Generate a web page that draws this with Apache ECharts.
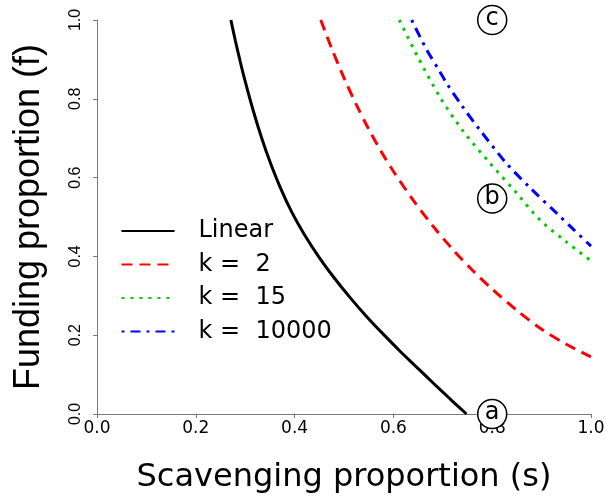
<!DOCTYPE html>
<html><head><meta charset="utf-8">
<script src="https://cdn.jsdelivr.net/npm/echarts@6/dist/echarts.min.js"></script>
<style>html,body{margin:0;padding:0;background:#fff}#c{width:606px;height:502px}</style>
</head><body><div id="c"></div>
<script>
// ---- data ----
var seriesNames = ['Linear', 'k =  2', 'k =  15', 'k =  10000'];

var linearS = [0.271, 0.280, 0.290, 0.300, 0.316, 0.333, 0.350, 0.372, 0.394, 0.420, 0.450, 0.478, 0.512, 0.546, 0.580, 0.613, 0.647, 0.681, 0.715, 0.748];
var linearF = [1.000, 0.948, 0.894, 0.844, 0.771, 0.702, 0.641, 0.572, 0.513, 0.455, 0.397, 0.349, 0.296, 0.247, 0.202, 0.160, 0.119, 0.078, 0.038, 0.000];

var k2S = [0.453, 0.475, 0.500, 0.525, 0.550, 0.575, 0.600, 0.640, 0.680, 0.720, 0.760, 0.800, 0.850, 0.900, 0.950, 1.000];
var k2F = [1.000, 0.928, 0.853, 0.785, 0.723, 0.667, 0.616, 0.543, 0.477, 0.418, 0.365, 0.317, 0.263, 0.215, 0.177, 0.145];

var k15S = [0.612, 0.650, 0.694, 0.740, 0.796, 0.850, 0.897, 0.950, 1.000];
var k15F = [1.000, 0.905, 0.805, 0.720, 0.636, 0.560, 0.492, 0.437, 0.389];

var k10000S = [0.637, 0.665, 0.694, 0.708, 0.740, 0.775, 0.829, 0.880, 0.931, 0.965, 1.000];
var k10000F = [1.000, 0.930, 0.869, 0.839, 0.780, 0.721, 0.636, 0.570, 0.509, 0.468, 0.426];

var markS = [0.8, 0.8, 0.8];
var markF = [0.0, 0.547, 1.0];
var markText = ['a', 'b', 'c'];

var xTitle = 'Scavenging proportion (s)';
var yTitle = 'Funding proportion (f)';

// ---- build ----
function pairs(xs, ys) { return xs.map(function (x, i) { return [x, ys[i]]; }); }

var axisGray = '#7a7a7a';
var hFont = 'DejaVu Sans';
var vFont = '"Liberation Sans", Arial';

var chart = echarts.init(document.getElementById('c'), null, {renderer: 'canvas'});
chart.setOption({
  animation: false,
  backgroundColor: '#ffffff',
  grid: {left: 97, right: 15, top: 20, bottom: 88, containLabel: false, outerBoundsMode: 'none'},
  legend: {
    orient: 'vertical', left: 120.5, top: 219, padding: 0,
    itemWidth: 53, itemHeight: 14, itemGap: 9.5,
    selectedMode: false,
    data: seriesNames,
    itemStyle: {opacity: 0},
    textStyle: {fontFamily: hFont, fontSize: 24, color: '#000', lineHeight: 24, padding: [0, 0, 0, 19]}
  },
  xAxis: {
    type: 'value', min: 0, max: 1, interval: 0.2,
    name: xTitle, nameLocation: 'middle', nameGap: 48,
    nameTextStyle: {fontFamily: hFont, fontSize: 32, color: '#000'},
    axisLine: {show: true, onZero: false, lineStyle: {color: axisGray, width: 1}},
    axisTick: {show: true, length: 4, lineStyle: {color: axisGray, width: 1}},
    axisLabel: {formatter: function (v) { return v.toFixed(1); }, fontFamily: hFont, fontSize: 17, color: '#000', margin: 6, showMinLabel: true, showMaxLabel: true, hideOverlap: false},
    splitLine: {show: false}
  },
  yAxis: {
    type: 'value', min: 0, max: 1, interval: 0.2,
    name: yTitle, nameLocation: 'middle', nameGap: 50, nameRotate: 90,
    nameTextStyle: {fontFamily: vFont, fontSize: 36, color: '#000'},
    axisLine: {show: true, onZero: false, lineStyle: {color: axisGray, width: 1}},
    axisTick: {show: true, length: 4, lineStyle: {color: axisGray, width: 1}},
    axisLabel: {rotate: 90, formatter: function (v) { return v.toFixed(1); }, fontFamily: vFont, fontSize: 16, color: '#000', margin: 13, showMinLabel: true, showMaxLabel: true, hideOverlap: false},
    splitLine: {show: false}
  },
  series: [
    {name: seriesNames[0], type: 'line', data: pairs(linearS, linearF), symbol: 'none', smooth: 0.3, clip: false,
     lineStyle: {color: '#000000', width: 3, type: 'solid'}, itemStyle: {color: '#000000'}, z: 3},
    {name: seriesNames[1], type: 'line', data: pairs(k2S, k2F), symbol: 'none', smooth: 0.3, clip: false,
     lineStyle: {color: '#ff0000', width: 3, type: [11, 7], cap: 'butt'}, itemStyle: {color: '#ff0000'}, z: 3},
    {name: seriesNames[2], type: 'line', data: pairs(k15S, k15F), symbol: 'none', smooth: 0.3, clip: false,
     lineStyle: {color: '#00cd00', width: 3, type: [3, 6], cap: 'butt'}, itemStyle: {color: '#00cd00'}, z: 3},
    {name: seriesNames[3], type: 'line', data: pairs(k10000S, k10000F), symbol: 'none', smooth: 0.3, clip: false,
     lineStyle: {color: '#0000ff', width: 3, type: [3, 6, 10, 6], cap: 'butt'}, itemStyle: {color: '#0000ff'}, z: 3},
    {name: 'marks', type: 'scatter', clip: false, z: 5,
     data: markS.map(function (s, i) { return {value: [s, markF[i]], name: markText[i]}; }),
     symbol: 'circle', symbolSize: 29,
     itemStyle: {color: '#ffffff', borderColor: '#000000', borderWidth: 1.5, opacity: 1},
     label: {show: true, position: 'inside', formatter: function (p) { return p.name; }, fontFamily: hFont, fontSize: 24, color: '#000', offset: [0, -1]},
     emphasis: {disabled: true}
    }
  ]
});
</script></body></html>
